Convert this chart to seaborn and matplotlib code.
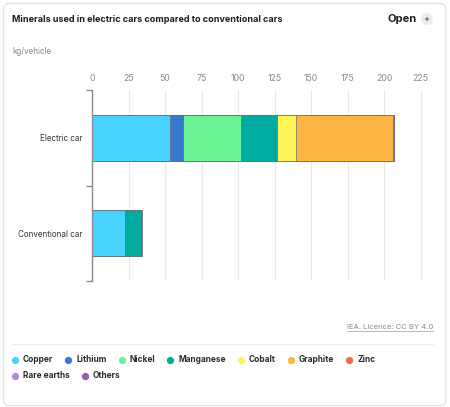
import numpy as np
import pandas as pd
import seaborn as sns
import matplotlib.pyplot as plt
import matplotlib.patches as mpatches
from matplotlib.lines import Line2D

# values in kg/vehicle
cars = ["Electric car", "Conventional car"]
minerals = ["Copper", "Lithium", "Nickel", "Manganese", "Cobalt",
            "Graphite", "Zinc", "Rare earths", "Others"]
electric = [53.2, 8.9, 39.9, 24.5, 13.3, 66.3, 0.1, 0.5, 0.3]
conventional = [22.3, 0.0, 0.0, 11.2, 0.0, 0.0, 0.1, 0.0, 0.3]
colors = ["#48d2ff", "#3a77d3", "#6af495", "#00ab9f", "#fff35a",
          "#fdb443", "#f26a40", "#b487e8", "#9b59ae"]
xticks = [0, 25, 50, 75, 100, 125, 150, 175, 200, 225]

sns.set_style("white")
plt.rcParams["font.family"] = ["Inter", "DejaVu Sans"]

df = pd.DataFrame({"car": np.repeat(cars, len(minerals)),
                   "mineral": minerals * len(cars),
                   "kg": electric + conventional})
df["cum"] = df.groupby("car", sort=False)["kg"].cumsum()

fig = plt.figure(figsize=(4.5, 4.07), dpi=100)
card = mpatches.FancyBboxPatch((3.5, 1.5), 442.5, 402, boxstyle="round,pad=0,rounding_size=6",
                               transform=None, facecolor="white", edgecolor="#e4e4e4", lw=1,
                               zorder=-5)
fig.patches.append(card)

ax = fig.add_axes([92 / 450, 1 - 281 / 407, 336 / 450, 191 / 407])
ax.patch.set_alpha(0)

# stacked bars: draw cumulative totals from the last mineral back to the first
for m, c in reversed(list(zip(minerals, colors))):
    sub = df[df["mineral"] == m]
    sns.barplot(data=sub, x="cum", y="car", order=cars, orient="h", color=c,
                width=0.48, edgecolor="#6a6a6a", linewidth=0.5, errorbar=None,
                saturation=1, ax=ax)

ax.set_xlim(0, 230)
ax.set_ylim(1.5, -0.5)
ax.set_xticks(xticks)
ax.xaxis.tick_top()
ax.tick_params(axis="x", length=0, pad=5, labelsize=6.3, labelcolor="#8a8a8a")
ax.tick_params(axis="y", length=0, pad=7, labelsize=5.8, labelcolor="#333333")
ax.set_yticks([-0.5, 0.5, 1.5], minor=True)
ax.tick_params(axis="y", which="minor", left=True, length=4.3, width=1, color="#8a8a8a",
               direction="out")
ax.set_xlabel("")
ax.set_ylabel("")
ax.grid(axis="x", color="#e8e8e8", lw=0.8)
ax.set_axisbelow(True)
for s in ["top", "right", "bottom"]:
    ax.spines[s].set_visible(False)
ax.spines["left"].set_color("#8a8a8a")
ax.spines["left"].set_linewidth(1)
ax.spines["left"].set_zorder(5)

# header
fig.text(12 / 450, 1 - 19 / 407, "Minerals used in electric cars compared to conventional cars",
         fontsize=6.5, fontweight="bold", color="#1c1c1c", va="center")
fig.text(417 / 450, 1 - 19 / 407, "Open", fontsize=8, fontweight="bold",
         color="#1c1c1c", va="center", ha="right")
fig.patches.append(mpatches.Circle((427, 407 - 19), 6, transform=None,
                                   facecolor="#ececec", edgecolor="none"))
fig.patches.append(mpatches.FancyArrowPatch((424, 407 - 22), (430, 407 - 16), transform=None,
                                            arrowstyle="<->,head_length=1.5,head_width=1",
                                            color="#666666", lw=0.6))
fig.text(12 / 450, 1 - 52 / 407, "kg/vehicle", fontsize=5.8, color="#8a8a8a", va="center")

# footer
lic = fig.text(433 / 450, 1 - 327 / 407, "IEA. Licence: CC BY 4.0", fontsize=5.5,
               color="#8a8a8a", ha="right", va="center")
fig.add_artist(Line2D([12 / 450, 433 / 450], [1 - 344 / 407] * 2, color="#ececec", lw=1))

# legend
fig.canvas.draw()
r = fig.canvas.get_renderer()
lw_ = lic.get_window_extent(r).width
fig.add_artist(Line2D([(433 - lw_) / 450, 433 / 450], [1 - 331 / 407] * 2,
                      color="#9a9a9a", lw=0.5))
x, y = 15, 360
for m, c in zip(minerals, colors):
    t = fig.text((x + 8) / 450, 1 - y / 407, m, fontsize=6.0, fontweight="bold",
                 color="#2a2a2a", va="center")
    w = t.get_window_extent(r).width
    if x + 8 + w > 420:
        x, y = 15, y + 16
        t.set_position(((x + 8) / 450, 1 - y / 407))
    fig.add_artist(Line2D([x / 450], [1 - y / 407], marker="o", markersize=4.2,
                          color=c, lw=0))
    x = x + 8 + w + 15

fig.savefig("out.png", dpi=100)
